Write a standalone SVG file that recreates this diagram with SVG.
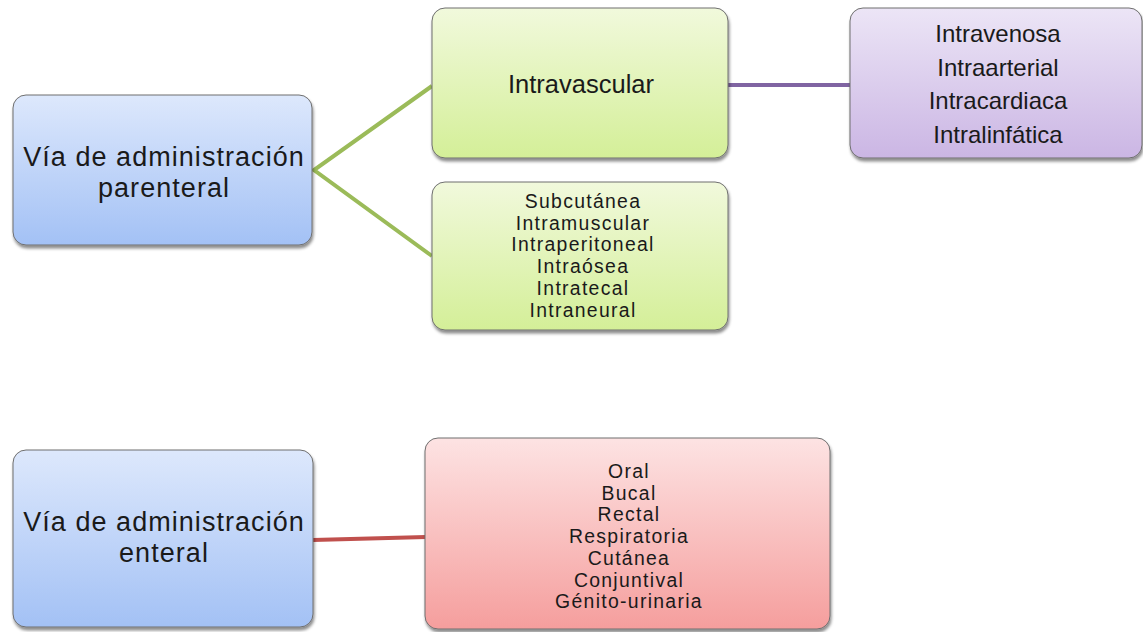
<svg xmlns="http://www.w3.org/2000/svg" width="1143" height="632" viewBox="0 0 1143 632">
<defs>
<linearGradient id="gBlue" x1="0" y1="0" x2="0" y2="1"><stop offset="0" stop-color="#dde8fc"/><stop offset="1" stop-color="#a3c1f5"/></linearGradient>
<linearGradient id="gGreen" x1="0" y1="0" x2="0" y2="1"><stop offset="0" stop-color="#f1f9dc"/><stop offset="1" stop-color="#d4ef98"/></linearGradient>
<linearGradient id="gPurple" x1="0" y1="0" x2="0" y2="1"><stop offset="0" stop-color="#ece5f6"/><stop offset="1" stop-color="#cbb6e4"/></linearGradient>
<linearGradient id="gRed" x1="0" y1="0" x2="0" y2="1"><stop offset="0" stop-color="#fde3e3"/><stop offset="1" stop-color="#f59e9d"/></linearGradient>
<filter id="sh" x="-10%" y="-10%" width="120%" height="130%"><feDropShadow dx="1" dy="3" stdDeviation="1.5" flood-color="#000" flood-opacity="0.45"/></filter>
</defs>
<style>
.box{stroke:#6f6f6f;stroke-width:1;filter:url(#sh)}
.t{font-family:"Liberation Sans",Arial,sans-serif;fill:#1a1a1a;text-anchor:middle}
.big{font-size:27px;letter-spacing:1.05px}
.mid{font-size:25.5px}
.pur{font-size:24px}
.sm{font-size:19.4px;letter-spacing:1.3px}
.conn{fill:none;stroke-width:4}
</style>
<rect width="1143" height="632" fill="#fff"/>
<g id="connectors">
<polyline class="conn" stroke="#9bbb59" points="432,86 314,170 432,256"/>
<line class="conn" stroke="#8064a2" x1="728" y1="85" x2="851" y2="85"/>
<line class="conn" stroke="#c0504d" x1="313" y1="540" x2="426" y2="537"/>
</g>
<g id="parenteral">
<rect class="box" x="13" y="95" width="299" height="150" rx="13" fill="url(#gBlue)"/>
<text class="t big" x="164" y="166">Vía de administración</text>
<text class="t big" x="164" y="196.5">parenteral</text>
</g>
<g id="intravascular">
<rect class="box" x="432" y="8" width="296" height="150" rx="13" fill="url(#gGreen)"/>
<text class="t mid" x="581" y="93">Intravascular</text>
</g>
<g id="otras-parenterales">
<rect class="box" x="432" y="182" width="296" height="148" rx="13" fill="url(#gGreen)"/>
<text class="t sm" x="583" y="208">Subcutánea</text>
<text class="t sm" x="583" y="229.7">Intramuscular</text>
<text class="t sm" x="583" y="251.4">Intraperitoneal</text>
<text class="t sm" x="583" y="273.1">Intraósea</text>
<text class="t sm" x="583" y="294.8">Intratecal</text>
<text class="t sm" x="583" y="316.5">Intraneural</text>
</g>
<g id="intravasculares">
<rect class="box" x="850" y="8" width="292" height="150" rx="13" fill="url(#gPurple)"/>
<text class="t pur" x="998" y="42">Intravenosa</text>
<text class="t pur" x="998" y="76">Intraarterial</text>
<text class="t pur" x="998" y="109">Intracardiaca</text>
<text class="t pur" x="998" y="143">Intralinfática</text>
</g>
<g id="enteral">
<rect class="box" x="13" y="450" width="300" height="177" rx="13" fill="url(#gBlue)"/>
<text class="t big" x="164" y="531">Vía de administración</text>
<text class="t big" x="164" y="561.5">enteral</text>
</g>
<g id="enterales">
<rect class="box" x="425" y="438" width="405" height="191" rx="13" fill="url(#gRed)"/>
<text class="t sm" x="629" y="478">Oral</text>
<text class="t sm" x="629" y="499.7">Bucal</text>
<text class="t sm" x="629" y="521.4">Rectal</text>
<text class="t sm" x="629" y="543.1">Respiratoria</text>
<text class="t sm" x="629" y="564.8">Cutánea</text>
<text class="t sm" x="629" y="586.5">Conjuntival</text>
<text class="t sm" x="629" y="608.2">Génito-urinaria</text>
</g>
</svg>
